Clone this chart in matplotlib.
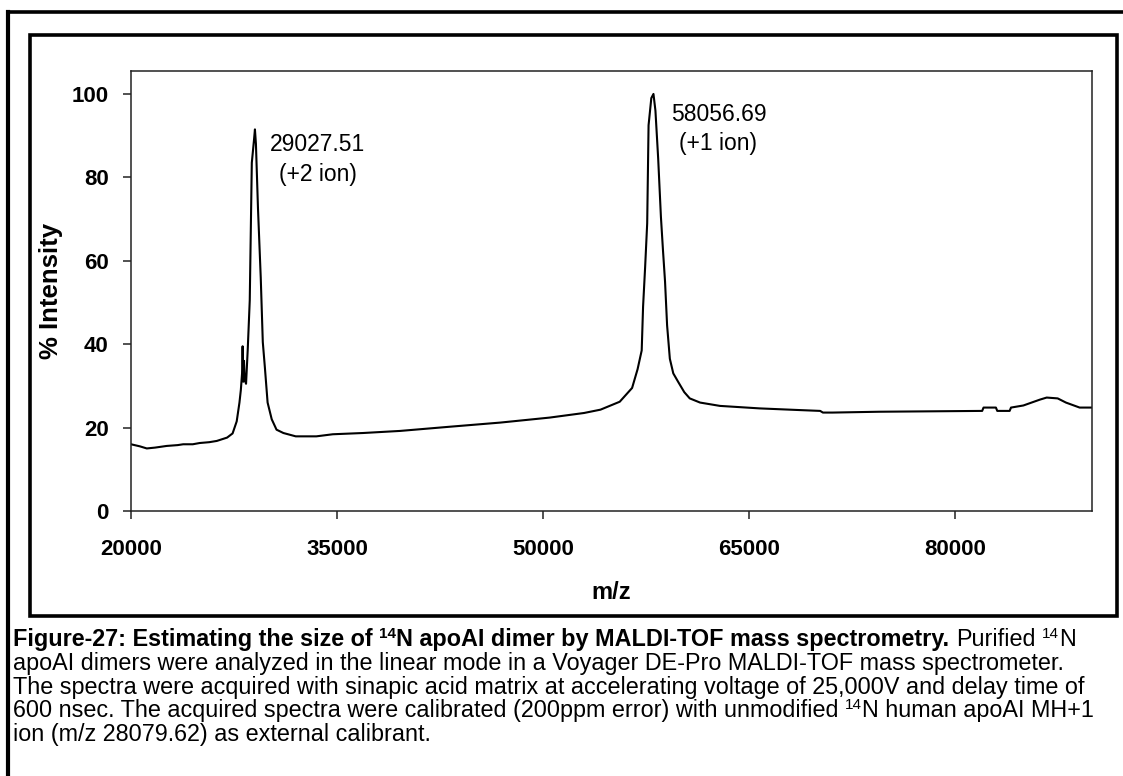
import matplotlib
matplotlib.use("Agg")
import matplotlib.pyplot as plt
from matplotlib.lines import Line2D
from matplotlib.patches import Rectangle
from matplotlib.transforms import IdentityTransform

plt.rcParams["font.family"] = ["Liberation Sans", "DejaVu Sans"]

# MALDI-TOF trace of the apoAI dimer: m/z against % intensity
mz = [20000, 20650, 21150, 21750, 22600, 23400, 23800, 24500, 25000, 25700,
      26250, 27000, 27400, 27700, 27900, 28000, 28090, 28130, 28180, 28230,
      28280, 28380, 28500, 28650, 28800, 28960, 29027.51, 29100, 29250, 29450,
      29600, 29750, 29950, 30250, 30600, 31100, 32000, 33500, 34700, 36900,
      39600, 43200, 46900, 50500, 53000, 54200, 55600, 56500, 56900, 57200,
      57300, 57450, 57600, 57700, 57900, 58056.69, 58200, 58400, 58600, 58750,
      58900, 59050, 59250, 59500, 59850, 60300, 60700, 61450, 62900, 65800,
      68700, 70200, 70400, 71100, 74500, 82000, 82100, 83000, 83100, 84000,
      84100, 85000, 86200, 86700, 87500, 88100, 89100, 90000]
intensity = [16.0, 15.5, 15.0, 15.2, 15.6, 15.8, 16.0, 16.0, 16.3, 16.5,
             16.8, 17.6, 18.6, 21.5, 26.0, 29.0, 33.0, 39.5, 31.0, 36.0,
             31.5, 30.5, 38.5, 50.5, 83.5, 89.0, 91.5, 88.0, 72.5, 56.0,
             40.5, 34.5, 26.0, 22.0, 19.5, 18.7, 17.9, 17.9, 18.4, 18.7,
             19.2, 20.2, 21.2, 22.4, 23.5, 24.3, 26.2, 29.5, 34.0, 38.5,
             49.0, 58.5, 69.0, 92.5, 99.0, 100.0, 96.0, 84.5, 70.5, 62.5,
             55.0, 44.5, 36.5, 33.0, 31.0, 28.5, 27.0, 26.0, 25.2, 24.6,
             24.2, 24.0, 23.6, 23.6, 23.8, 24.0, 24.8, 24.8, 24.0, 24.0,
             24.8, 25.3, 26.7, 27.2, 27.0, 26.0, 24.8, 24.8]

peak_mz = [29027.51, 58056.69]
peak_labels = ["29027.51\n(+2 ion)", "58056.69\n(+1 ion)"]
peak_offsets = [(63, -30), (65, -35)]

x_ticks = [20000, 35000, 50000, 65000, 80000]
y_ticks = [0, 20, 40, 60, 80, 100]

# caption runs: (text, bold, superscript, space before)
caption = [
    [("Figure-27: Estimating the size of", True, False, False),
     ("14", True, True, True),
     ("N apoAI dimer by MALDI-TOF mass spectrometry.", True, False, False),
     ("Purified", False, False, True),
     ("14", False, True, True),
     ("N", False, False, False)],
    [("apoAI dimers were analyzed in the linear mode in a Voyager DE-Pro "
      "MALDI-TOF mass spectrometer.", False, False, False)],
    [("The spectra were acquired with sinapic acid matrix at accelerating "
      "voltage of 25,000V and delay time of", False, False, False)],
    [("600 nsec. The acquired spectra were calibrated (200ppm error) with "
      "unmodified", False, False, False),
     ("14", False, True, True),
     ("N human apoAI MH+1", False, False, False)],
    [("ion (m/z 28079.62) as external calibrant.", False, False, False)],
]

W, H = 1123, 776
fig = plt.figure(figsize=(W / 100, H / 100), dpi=100)
px = IdentityTransform()

# page frame (left and top edges) and the chart box
fig.add_artist(Line2D([8, 8], [0, H - 11.5], transform=px, color="black", lw=3))
fig.add_artist(Line2D([8, W], [H - 11.5, H - 11.5], transform=px, color="black", lw=2.6))
fig.add_artist(Rectangle((30, H - 616), 1087, 581, transform=px, fill=False,
                         edgecolor="black", lw=2.6))

ax = fig.add_axes([131 / W, 1 - 511 / H, (1092 - 131) / W, (511 - 71) / H])
ax.plot(mz, intensity, color="black", lw=1.5)

for p, label, (dx, dy) in zip(peak_mz, peak_labels, peak_offsets):
    ax.annotate(label, xy=(p, intensity[mz.index(p)]), xytext=(dx, dy),
                textcoords="offset pixels", ha="center", va="center",
                fontsize=16.5, linespacing=1.35)

ax.set_xlim(20000, 90000)
ax.set_ylim(0, 105.5)
ax.set_xticks(x_ticks)
ax.set_yticks(y_ticks)
ax.set_xticklabels([str(t) for t in x_ticks], fontweight="bold", fontsize=16)
ax.set_yticklabels([str(t) for t in y_ticks], fontweight="bold", fontsize=16)
ax.tick_params(axis="both", direction="out", length=6, width=1.1, color="#222222")
ax.tick_params(axis="x", pad=14)
ax.tick_params(axis="y", pad=10)
for side in ax.spines.values():
    side.set_color("#222222")
    side.set_linewidth(1.1)

ax.set_xlabel("m/z", fontweight="bold", fontsize=17, labelpad=15)
ax.set_ylabel("% Intensity", fontweight="bold", fontsize=18.5, labelpad=6)

# caption below the chart box, built run by run for the superscripts
renderer = fig.canvas.get_renderer()
space = 6.5
for i, runs in enumerate(caption):
    base = H - (646 + 23.8 * i)
    x = 13
    for text, bold, sup, gap in runs:
        if gap:
            x += space
        t = fig.text(x, base + (8 if sup else 0), text, transform=px,
                     fontsize=11 if sup else 16.8,
                     fontweight="bold" if bold else "normal", va="baseline")
        x = t.get_window_extent(renderer).x1

fig.savefig("out.png", dpi=100)
